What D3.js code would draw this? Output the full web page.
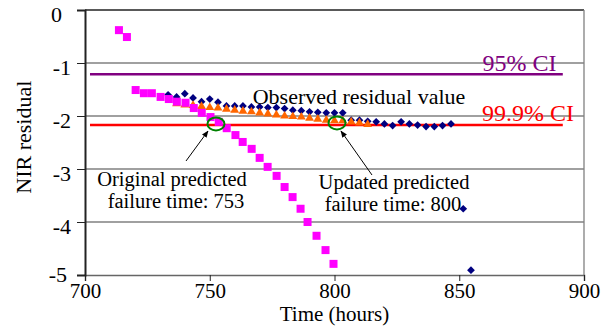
<!DOCTYPE html>
<html>
<head>
<meta charset="utf-8">
<script src="https://cdn.jsdelivr.net/npm/d3@7"></script>
<style>
  body { margin: 0; background: #fff; }
</style>
</head>
<body>
<svg id="chart" width="601" height="326"></svg>
<script>
// Original prediction (magenta squares)
const origHours = [713.6, 716.8, 720.3, 723.6, 726.8, 730.3, 733.6, 736.8, 740.3, 743.6, 746.8, 750.3,
  753.6, 756.8, 760.3, 763.2, 766.8, 770, 773.2, 776.8, 780, 783.2, 786.4, 789.2, 792.8, 796.4, 799.6];
const origValues = [-0.38, -0.51, -1.51, -1.57, -1.57, -1.64, -1.68, -1.73, -1.75, -1.85, -1.94, -2.02,
  -2.11, -2.23, -2.36, -2.49, -2.62, -2.79, -2.96, -3.13, -3.34, -3.53, -3.75, -4.0, -4.26, -4.53, -4.79];

// Observed residual (navy diamonds)
const obsHours = [733.3, 736.7, 740, 743.3, 746.7, 750, 753.3, 756.7, 760, 763.3, 766.7, 770, 773.3,
  776.7, 780, 783.3, 786.7, 790, 793.3, 796.7, 800, 803.3, 806.7, 810, 813.3, 816.7, 820, 823.3,
  826.7, 830, 833.3, 836.7, 840, 843.3, 846.7, 851.6, 854.7];
const obsValues = [-1.60, -1.64, -1.58, -1.66, -1.73, -1.68, -1.74, -1.81, -1.81, -1.81, -1.83, -1.83, -1.84,
  -1.84, -1.86, -1.89, -1.90, -1.92, -1.93, -1.94, -1.94, -1.94, -2.08, -2.08, -2.10, -2.11, -2.15, -2.18,
  -2.11, -2.15, -2.17, -2.20, -2.20, -2.18, -2.15, -3.75, -4.91];

// Updated prediction (orange triangles)
const updHours = [736.7, 740, 743.3, 746.7, 750, 753.3, 756.7, 760, 763.3, 766.7, 770, 773.3, 776.7,
  780, 783.3, 786.7, 790, 793.3, 796.7, 800, 803.3, 806.7, 810, 813.3];
const updValues = [-1.77, -1.79, -1.80, -1.82, -1.84, -1.85, -1.87, -1.89, -1.91, -1.92, -1.94, -1.96, -1.98,
  -2.00, -2.01, -2.02, -2.04, -2.06, -2.08, -2.09, -2.09, -2.11, -2.13, -2.16];

const ci95 = -1.21;
const ci999 = -2.17;
const xTicks = [700, 750, 800, 850, 900];
const yTicks = [0, -1, -2, -3, -4, -5];
const failOrig = 752.5, failUpd = 801;

const FONT = "Liberation Serif, DejaVu Serif, Times New Roman, serif";

const svg = d3.select("#chart").attr("font-family", FONT);
const margin = {top: 10, right: 17, bottom: 51, left: 85};
const width = +svg.attr("width") - margin.left - margin.right;
const height = +svg.attr("height") - margin.top - margin.bottom;

const x = d3.scaleLinear().domain([700, 900]).range([margin.left, margin.left + width]);
const y = d3.scaleLinear().domain([-5, 0]).range([margin.top + height, margin.top]);

// gridlines
svg.append("g").selectAll("line").data(yTicks.filter(d => d !== 0 && d !== -5)).enter().append("line")
  .attr("x1", x(700)).attr("x2", x(900))
  .attr("y1", d => y(d)).attr("y2", d => y(d))
  .attr("stroke", "#808080").attr("stroke-width", 1.3);

// frame: top and right
svg.append("line").attr("x1", x(700)).attr("x2", x(900)).attr("y1", y(0)).attr("y2", y(0))
  .attr("stroke", "#222").attr("stroke-width", 1.5);
svg.append("line").attr("x1", x(900)).attr("x2", x(900)).attr("y1", y(0)).attr("y2", y(-5))
  .attr("stroke", "#808080").attr("stroke-width", 1.3);

// axes
const xAxis = svg.append("g").attr("transform", `translate(0,${y(-5)})`)
  .call(d3.axisBottom(x).tickValues(xTicks).tickSize(6).tickPadding(2).tickFormat(d => String(d)));
xAxis.attr("font-family", FONT).attr("font-size", 21);
xAxis.select(".domain").attr("stroke", "#666").attr("stroke-width", 1.5);
xAxis.selectAll(".tick line").attr("stroke", "#222");
xAxis.selectAll("text").attr("fill", "#000");

const yAxis = svg.append("g").attr("transform", `translate(${x(700)},0)`)
  .call(d3.axisLeft(y).tickValues(yTicks).tickSize(8).tickPadding(6).tickFormat(d => String(d)));
yAxis.attr("font-family", FONT).attr("font-size", 22);
yAxis.select(".domain").attr("stroke", "#222").attr("stroke-width", 2);
yAxis.selectAll(".tick line").attr("stroke", "#222");
yAxis.selectAll("text").attr("fill", "#000").attr("dy", "0.5em");
// Excel-like nudges for the top and bottom labels
yAxis.selectAll("text").filter(function() { return this.textContent === "0"; }).attr("x", -23);
yAxis.selectAll("text").filter(function() { return this.textContent === "-5"; })
  .attr("x", -18).attr("dy", "0.3em");

// axis titles
svg.append("text").attr("x", x(800)).attr("y", 321).attr("text-anchor", "middle")
  .attr("font-size", 21).text("Time (hours)");
svg.append("text").attr("transform", `translate(31,${y(-2.4)}) rotate(-90)`)
  .attr("text-anchor", "middle").attr("font-size", 22).text("NIR residual");

// confidence lines
const ciG = svg.append("g");
ciG.append("line").attr("x1", x(702)).attr("x2", x(891.5)).attr("y1", y(ci95)).attr("y2", y(ci95))
  .attr("stroke", "#800080").attr("stroke-width", 2.5);
ciG.append("line").attr("x1", x(702)).attr("x2", x(891.5)).attr("y1", y(ci999)).attr("y2", y(ci999))
  .attr("stroke", "#ff0000").attr("stroke-width", 2.5);
ciG.append("text").attr("x", x(889)).attr("y", y(ci95) - 3).attr("text-anchor", "end")
  .attr("font-size", 24).attr("fill", "#800080").text("95% CI");
ciG.append("text").attr("x", x(896)).attr("y", y(ci999) - 4).attr("text-anchor", "end")
  .attr("font-size", 24).attr("fill", "#ff0000").text("99.9% CI");

// series
const obs = obsHours.map((h, i) => ({h, v: obsValues[i]}));
const upd = updHours.map((h, i) => ({h, v: updValues[i]}));
const orig = origHours.map((h, i) => ({h, v: origValues[i]}));

svg.append("g").selectAll("path").data(obs).enter().append("path")
  .attr("d", d3.symbol(d3.symbolSquare, 30))
  .attr("transform", d => `translate(${x(d.h)},${y(d.v)}) rotate(45)`)
  .attr("fill", "#000080");

svg.append("g").selectAll("path").data(upd).enter().append("path")
  .attr("d", d3.symbol(d3.symbolTriangle, 34))
  .attr("transform", d => `translate(${x(d.h)},${y(d.v)})`)
  .attr("fill", "#ff6600");

svg.append("g").selectAll("rect").data(orig).enter().append("rect")
  .attr("x", d => x(d.h) - 4).attr("y", d => y(d.v) - 4)
  .attr("width", 8).attr("height", 8)
  .attr("fill", "#ff00ff");

// annotations
svg.append("defs").append("marker").attr("id", "arrow")
  .attr("viewBox", "0 0 10 10").attr("refX", 9).attr("refY", 5)
  .attr("markerWidth", 7).attr("markerHeight", 7).attr("orient", "auto")
  .append("path").attr("d", "M0,1 L10,5 L0,9 z").attr("fill", "#000");

svg.append("ellipse").attr("cx", x(failOrig)).attr("cy", y(-2.15)).attr("rx", 8.5).attr("ry", 6.5)
  .attr("fill", "none").attr("stroke", "#008000").attr("stroke-width", 2);
svg.append("ellipse").attr("cx", x(failUpd)).attr("cy", y(-2.13)).attr("rx", 8.5).attr("ry", 6.5)
  .attr("fill", "none").attr("stroke", "#008000").attr("stroke-width", 2);

svg.append("line").attr("x1", 186).attr("y1", 161).attr("x2", 208).attr("y2", 131)
  .attr("stroke", "#000").attr("stroke-width", 1).attr("marker-end", "url(#arrow)");
svg.append("line").attr("x1", 372).attr("y1", 175).attr("x2", 341).attr("y2", 131)
  .attr("stroke", "#000").attr("stroke-width", 1).attr("marker-end", "url(#arrow)");

svg.append("text").attr("x", 359).attr("y", 104).attr("text-anchor", "middle")
  .attr("font-size", 22).text("Observed residual value");

const note1 = svg.append("text").attr("font-size", 20.5).attr("text-anchor", "middle");
note1.append("tspan").attr("x", 172).attr("y", 186).text("Original predicted");
note1.append("tspan").attr("x", 176).attr("y", 208).text("failure time: 753");

const note2 = svg.append("text").attr("font-size", 20.5).attr("text-anchor", "middle");
note2.append("tspan").attr("x", 394).attr("y", 189).text("Updated predicted");
note2.append("tspan").attr("x", 393).attr("y", 211).text("failure time: 800");
</script>
</body>
</html>
